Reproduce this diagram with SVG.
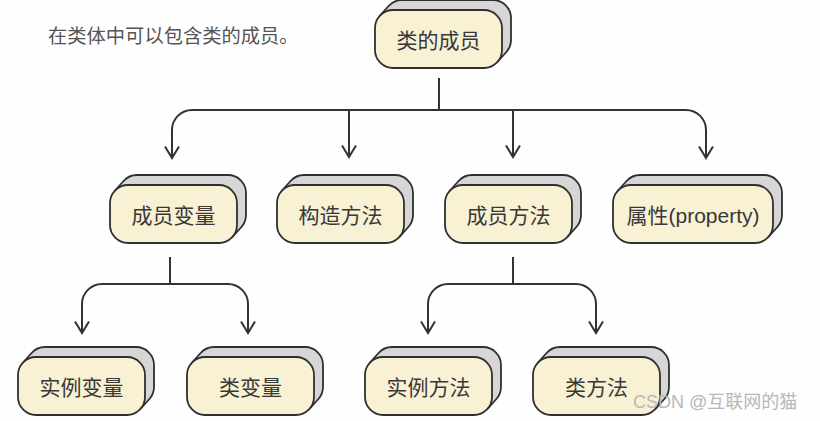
<svg xmlns="http://www.w3.org/2000/svg" xmlns:xlink="http://www.w3.org/1999/xlink" width="820" height="421" viewBox="0 0 820 421">
<style>
.back{fill:#d6d6d6;stroke:#2f2f2f;stroke-width:1.8;stroke-linejoin:round}
.front{fill:#f8f1d3;stroke:#2f2f2f;stroke-width:1.8}
.lbl{font-family:"Liberation Sans","Noto Sans CJK SC",sans-serif;font-size:21px;fill:#383838;text-anchor:middle;dominant-baseline:central}
.conn{fill:none;stroke:#333;stroke-width:2}
.head{font-family:"Liberation Sans","Noto Sans CJK SC",sans-serif;font-size:19.3px;fill:#555}
.wm{font-family:"Liberation Sans","Noto Sans CJK SC",sans-serif;font-size:18px;fill:#b8b8b8}
</style>
<defs>
<marker id="arr" markerUnits="userSpaceOnUse" viewBox="0 0 14 16" refX="12.5" refY="8" markerWidth="14" markerHeight="16" orient="auto">
<path d="M1,1 L12.5,8 L1,15" fill="none" stroke="#333" stroke-width="2"/>
</marker>
<g id="blk">
<path class="back" d="M4.6,6 L13.6,-4 A18,18 0 0 1 27,-10 L118,-10 A18,18 0 0 1 136,8 L136,30 A18,18 0 0 1 131.4,42 L122.4,52 Z"/>
<rect class="front" x="0" y="0" width="127" height="58" rx="18" ry="18"/>
</g>
<g id="blkw">
<path class="back" d="M4.6,6 L13.6,-4 A18,18 0 0 1 27,-10 L151,-10 A18,18 0 0 1 169,8 L169,30 A18,18 0 0 1 164.4,42 L155.4,52 Z"/>
<rect class="front" x="0" y="0" width="160" height="58" rx="18" ry="18"/>
</g>
</defs>
<rect x="0" y="0" width="820" height="421" fill="#fefefe"/>
<text class="head" x="48" y="43">在类体中可以包含类的成员。</text>

<g id="connectors">
<path class="conn" d="M439,78 V110"/>
<path class="conn" d="M439,110 H192 A20,20 0 0 0 172,130 V158" marker-end="url(#arr)"/>
<path class="conn" d="M439,110 H686 A20,20 0 0 1 706,130 V158" marker-end="url(#arr)"/>
<path class="conn" d="M349,110 V157" marker-end="url(#arr)"/>
<path class="conn" d="M513,110 V157" marker-end="url(#arr)"/>
<path class="conn" d="M170,257 V284"/>
<path class="conn" d="M170,284 H102 A20,20 0 0 0 82,304 V333" marker-end="url(#arr)"/>
<path class="conn" d="M170,284 H228 A20,20 0 0 1 248,304 V333" marker-end="url(#arr)"/>
<path class="conn" d="M513,257 V284"/>
<path class="conn" d="M513,284 H448 A20,20 0 0 0 428,304 V333" marker-end="url(#arr)"/>
<path class="conn" d="M513,284 H576 A20,20 0 0 1 596,304 V333" marker-end="url(#arr)"/>
</g>

<g id="node-root" transform="translate(375,10)"><use xlink:href="#blk"/><text class="lbl" x="63.5" y="30">类的成员</text></g>
<g id="node-var" transform="translate(110,185)"><use xlink:href="#blk"/><text class="lbl" x="63.5" y="30">成员变量</text></g>
<g id="node-ctor" transform="translate(277,185)"><use xlink:href="#blk"/><text class="lbl" x="63.5" y="30">构造方法</text></g>
<g id="node-method" transform="translate(445,185)"><use xlink:href="#blk"/><text class="lbl" x="63.5" y="30">成员方法</text></g>
<g id="node-prop" transform="translate(613,185)"><use xlink:href="#blkw"/><text class="lbl" x="80" y="30">属性(property)</text></g>
<g id="node-ivar" transform="translate(18,357)"><use xlink:href="#blk"/><text class="lbl" x="63.5" y="30">实例变量</text></g>
<g id="node-cvar" transform="translate(187,357)"><use xlink:href="#blk"/><text class="lbl" x="63.5" y="30">类变量</text></g>
<g id="node-imeth" transform="translate(365,357)"><use xlink:href="#blk"/><text class="lbl" x="63.5" y="30">实例方法</text></g>
<g id="node-cmeth" transform="translate(533,357)"><use xlink:href="#blk"/><text class="lbl" x="63.5" y="30">类方法</text></g>

<text class="wm" x="633" y="408">CSDN @互联网的猫</text>
</svg>
